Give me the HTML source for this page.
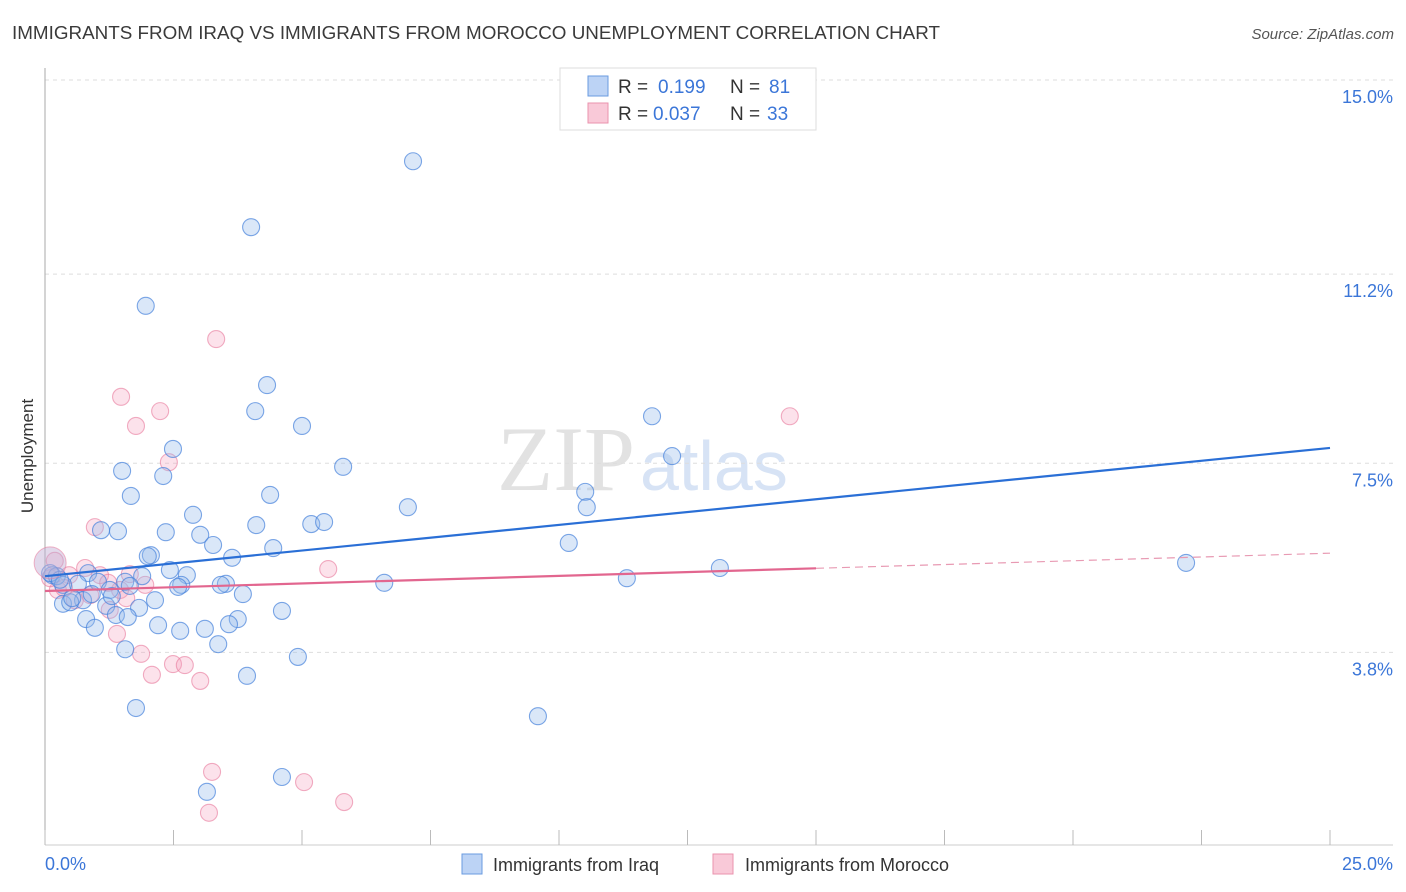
<!DOCTYPE html>
<html><head><meta charset="utf-8"><style>
body{margin:0;background:#fff;font-family:"Liberation Sans",sans-serif;}
svg{display:block}
</style></head><body>
<svg id="chart" width="1406" height="892">
<text x="12" y="39" font-size="18" fill="#3a3a3a" textLength="928" lengthAdjust="spacingAndGlyphs">IMMIGRANTS FROM IRAQ VS IMMIGRANTS FROM MOROCCO UNEMPLOYMENT CORRELATION CHART</text>
<text x="1394" y="39" font-size="15" fill="#555" font-style="italic" text-anchor="end">Source: ZipAtlas.com</text>
<text x="635" y="490" font-size="92" fill="#e2e2e2" font-family="Liberation Serif,serif" text-anchor="end">ZIP</text>
<text x="640" y="490" font-size="70" fill="#d7e3f5" text-anchor="start">atlas</text>
<g id="grid"></g>
<line x1="45" y1="68" x2="45" y2="845" stroke="#aaa"/>
<line x1="45" y1="845" x2="1393" y2="845" stroke="#ccc"/>
<g id="xticks"></g>
<text x="33" y="456" font-size="17" fill="#333" text-anchor="middle" transform="rotate(-90 33 456)">Unemployment</text>
<text x="45" y="870" font-size="18" fill="#3b76d8">0.0%</text>
<text x="1393" y="870" font-size="18" fill="#3b76d8" text-anchor="end">25.0%</text>
<g id="pts"></g>
<g id="trends"></g>
<g>
<rect x="560" y="68" width="256" height="62" fill="#fff" stroke="#ddd"/>
<rect x="588" y="76" width="20" height="20" fill="#bcd3f5" stroke="#6a9be0"/>
<rect x="588" y="103" width="20" height="20" fill="#f9c9d8" stroke="#ea93ae"/>
<text y="93" font-size="19" fill="#333"><tspan x="618">R = </tspan><tspan x="658" fill="#3b76d8">0.199</tspan><tspan x="730">N = </tspan><tspan x="769" fill="#3b76d8">81</tspan></text>
<text y="120" font-size="19" fill="#333"><tspan x="618">R = </tspan><tspan x="653" fill="#3b76d8">0.037</tspan><tspan x="730">N = </tspan><tspan x="767" fill="#3b76d8">33</tspan></text>
</g>
<g>
<rect x="462" y="854" width="20" height="20" fill="#bcd3f5" stroke="#6a9be0"/>
<text x="493" y="871" font-size="18" fill="#333">Immigrants from Iraq</text>
<rect x="713" y="854" width="20" height="20" fill="#f9c9d8" stroke="#ea93ae"/>
<text x="745" y="871" font-size="18" fill="#333">Immigrants from Morocco</text>
</g>
</svg>
<script>
const yTicks=[3.8,7.5,11.2,15.0];
const yTickLabels=["3.8%","7.5%","11.2%","15.0%"];
const xTicks=[0,2.5,5,7.5,10,12.5,15,17.5,20,22.5,25];
const iraqX=[7.16,4.01,1.96,4.32,4.09,5.00,2.49,5.80,1.50,2.30,1.67,4.38,7.06,2.88,10.51,10.54,11.81,12.20,1.42,1.09,2.35,3.02,4.11,5.18,5.43,3.27,4.44,2.06,2.00,3.64,10.19,2.43,2.76,2.65,2.59,1.89,0.84,0.14,0.23,3.52,3.42,3.85,6.60,11.32,13.13,22.20,1.56,1.03,0.64,0.35,1.26,0.74,0.35,0.49,2.14,1.19,1.83,4.61,1.38,0.80,1.61,0.97,2.20,2.63,3.11,3.75,3.58,3.37,1.56,4.92,3.93,1.77,9.59,4.61,3.15,0.10,0.29,0.53,0.91,1.30,1.65];
const iraqY=[13.41,12.12,10.58,9.03,8.52,8.23,7.78,7.43,7.35,7.25,6.86,6.88,6.64,6.49,6.94,6.64,8.42,7.64,6.17,6.19,6.15,6.10,6.29,6.31,6.35,5.90,5.84,5.70,5.68,5.65,5.94,5.41,5.31,5.12,5.08,5.29,5.35,5.31,5.29,5.14,5.12,4.94,5.16,5.25,5.45,5.55,5.18,5.18,5.14,5.12,5.02,4.82,4.75,4.78,4.82,4.71,4.67,4.61,4.53,4.45,4.49,4.28,4.33,4.22,4.26,4.45,4.35,3.96,3.86,3.71,3.34,2.71,2.55,1.36,1.07,5.35,5.22,4.86,4.94,4.90,5.10];
const morX=[3.33,1.48,2.24,1.77,2.41,0.97,14.49,5.51,0.19,0.78,0.47,1.07,1.65,1.95,1.46,1.23,0.25,0.58,1.26,1.40,1.87,2.08,2.49,2.72,3.02,3.25,5.04,5.82,3.19,0.10,0.37,0.88,1.58];
const morY=[9.93,8.80,8.52,8.23,7.52,6.25,8.42,5.43,5.59,5.45,5.31,5.31,5.33,5.12,5.02,5.16,5.02,4.82,4.63,4.16,3.77,3.36,3.57,3.55,3.24,1.46,1.26,0.87,0.66,5.25,5.06,4.92,4.86];
const iraqTrend=[5.29,7.80];
const morTrend=[5.0,5.74];
const morSolidEnd=15;
const X=v=>45+v*51.4, Y=v=>80+(15-v)*51.1;
const NS="http://www.w3.org/2000/svg";
function mk(tag,attrs,parent){const e=document.createElementNS(NS,tag);for(const k in attrs)e.setAttribute(k,attrs[k]);parent.appendChild(e);return e;}
const grid=document.getElementById('grid');
yTicks.forEach((t,i)=>{
 const l=mk('line',{x1:45,x2:1393,y1:Y(t),y2:Y(t),stroke:'#ddd','stroke-dasharray':'4,4'},grid);
 
 
 const tx=mk('text',{x:1393,y:Y(t)+23,'font-size':18,fill:'#3b76d8','text-anchor':'end'},grid);
 tx.textContent=yTickLabels[i];
 
 
});
const xt=document.getElementById('xticks');
xTicks.forEach(t=>{
 const l=mk('line',{x1:X(t),x2:X(t),y1:830,y2:845,stroke:'#bbb'},xt);
 
 
});
const pts=document.getElementById('pts');
morX.forEach((x,i)=>{
 const c=mk('circle',{cx:X(x),cy:Y(morY[i]),r:8.5,fill:'rgba(244,160,190,0.3)',stroke:'rgba(232,120,155,0.6)','stroke-width':1.1},pts);
 
 
});
iraqX.forEach((x,i)=>{
 const c=mk('circle',{cx:X(x),cy:Y(iraqY[i]),r:8.5,fill:'rgba(150,185,235,0.35)',stroke:'rgba(70,130,220,0.7)','stroke-width':1.1},pts);
 
 
});
const big=mk('circle',{cx:X(0.1),cy:Y(5.55),r:16,fill:'rgba(190,170,210,0.45)',stroke:'rgba(232,120,155,0.55)'},pts);


const tr=document.getElementById('trends');
const bl=mk('line',{x1:X(0),y1:Y(iraqTrend[0]),x2:X(25),y2:Y(iraqTrend[1]),stroke:'#2a6fd6','stroke-width':2.2},tr);


const mEnd=morTrend[0]+(morTrend[1]-morTrend[0])*morSolidEnd/25;
const pl=mk('line',{x1:X(0),y1:Y(morTrend[0]),x2:X(morSolidEnd),y2:Y(mEnd),stroke:'#e2668f','stroke-width':2.2},tr);


const pd=mk('line',{x1:X(morSolidEnd),y1:Y(mEnd),x2:X(25),y2:Y(morTrend[1]),stroke:'#e89ab3','stroke-width':1.2,'stroke-dasharray':'8,5'},tr);


</script>
</body></html>
